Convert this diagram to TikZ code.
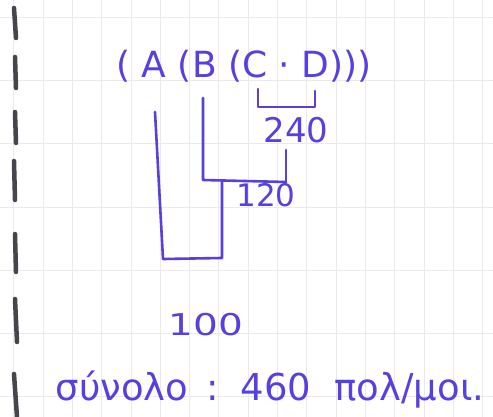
\documentclass[tikz,border=0pt]{standalone}
\usepackage{fontspec}
\setmainfont{DejaVu Sans}
\definecolor{ink}{RGB}{86,64,224}
\definecolor{gridc}{RGB}{234,234,237}
\definecolor{markc}{RGB}{72,68,76}
\begin{document}
\begin{tikzpicture}[x=1pt,y=-1pt,
  inkline/.style={draw=ink, line width=2.6pt, line cap=round, line join=round},
  lbl/.style={text=ink, inner sep=0pt, anchor=base},
  marginmark/.style={draw=markc, line width=4.5pt, line cap=round},
  gridline/.style={draw=gridc, line width=0.7pt}]
\fill[white] (0,0) rectangle (493,417);
\useasboundingbox (0,0) rectangle (493,417);
% graph paper
\foreach \i in {0,...,16} \draw[gridline] ({13.7+29.3*\i},0) -- ({13.7+29.3*\i},417);
\foreach \j in {0,...,6} \draw[gridline] (0,{17+63.3*\j}) -- (493,{17+63.3*\j});
% margin marks
\draw[marginmark] (14,8) -- (16,38);
\draw[marginmark] (15,57) -- (16,88);
\draw[marginmark] (15,112) -- (16,143);
\draw[marginmark] (14,161) -- (15,200);
\draw[marginmark] (15,234) -- (16,272);
\draw[marginmark] (15,299) -- (17,342);
\draw[marginmark] (14,374) -- (17,417);
% texts
\node[lbl, font=\fontsize{36}{36}\selectfont] (expr) at (244,78) {( A (B (C · D)))};
\node[lbl, font=\fontsize{34}{34}\selectfont] (n240) at (296,143) {240};
\node[lbl, font=\fontsize{31}{31}\selectfont] (n120) at (266,207) {120};
\node[lbl, font=\fontsize{30}{30}\selectfont] (n100) at (206,335) {\scalebox{1.3}[1]{100}};
\node[lbl, font=\fontsize{37}{37}\selectfont] (total) at (270,400) {σύνολο\, :\, 460\ \ πολ/μοι.};
% connectors
\coordinate (c1) at (258,89);
\coordinate (c2) at (258,107);
\coordinate (d2) at (315,107);
\coordinate (d1) at (315,91);
\draw[inkline] (c1) -- (c2) -- (d2) -- (d1);
\coordinate (k0) at (286,150);
\coordinate (k) at (286,182);
\draw[inkline] (k0) -- (k);
\coordinate (b1) at (203,98);
\coordinate (b2) at (203,180);
\draw[inkline] (b1) -- (b2) -- (k);
\coordinate (m1) at (222,181);
\coordinate (m2) at (222,258);
\coordinate (a2) at (163,259);
\coordinate (a1) at (155,112);
\draw[inkline] (m1) -- (m2) -- (a2) -- (a1);
\end{tikzpicture}
\end{document}
